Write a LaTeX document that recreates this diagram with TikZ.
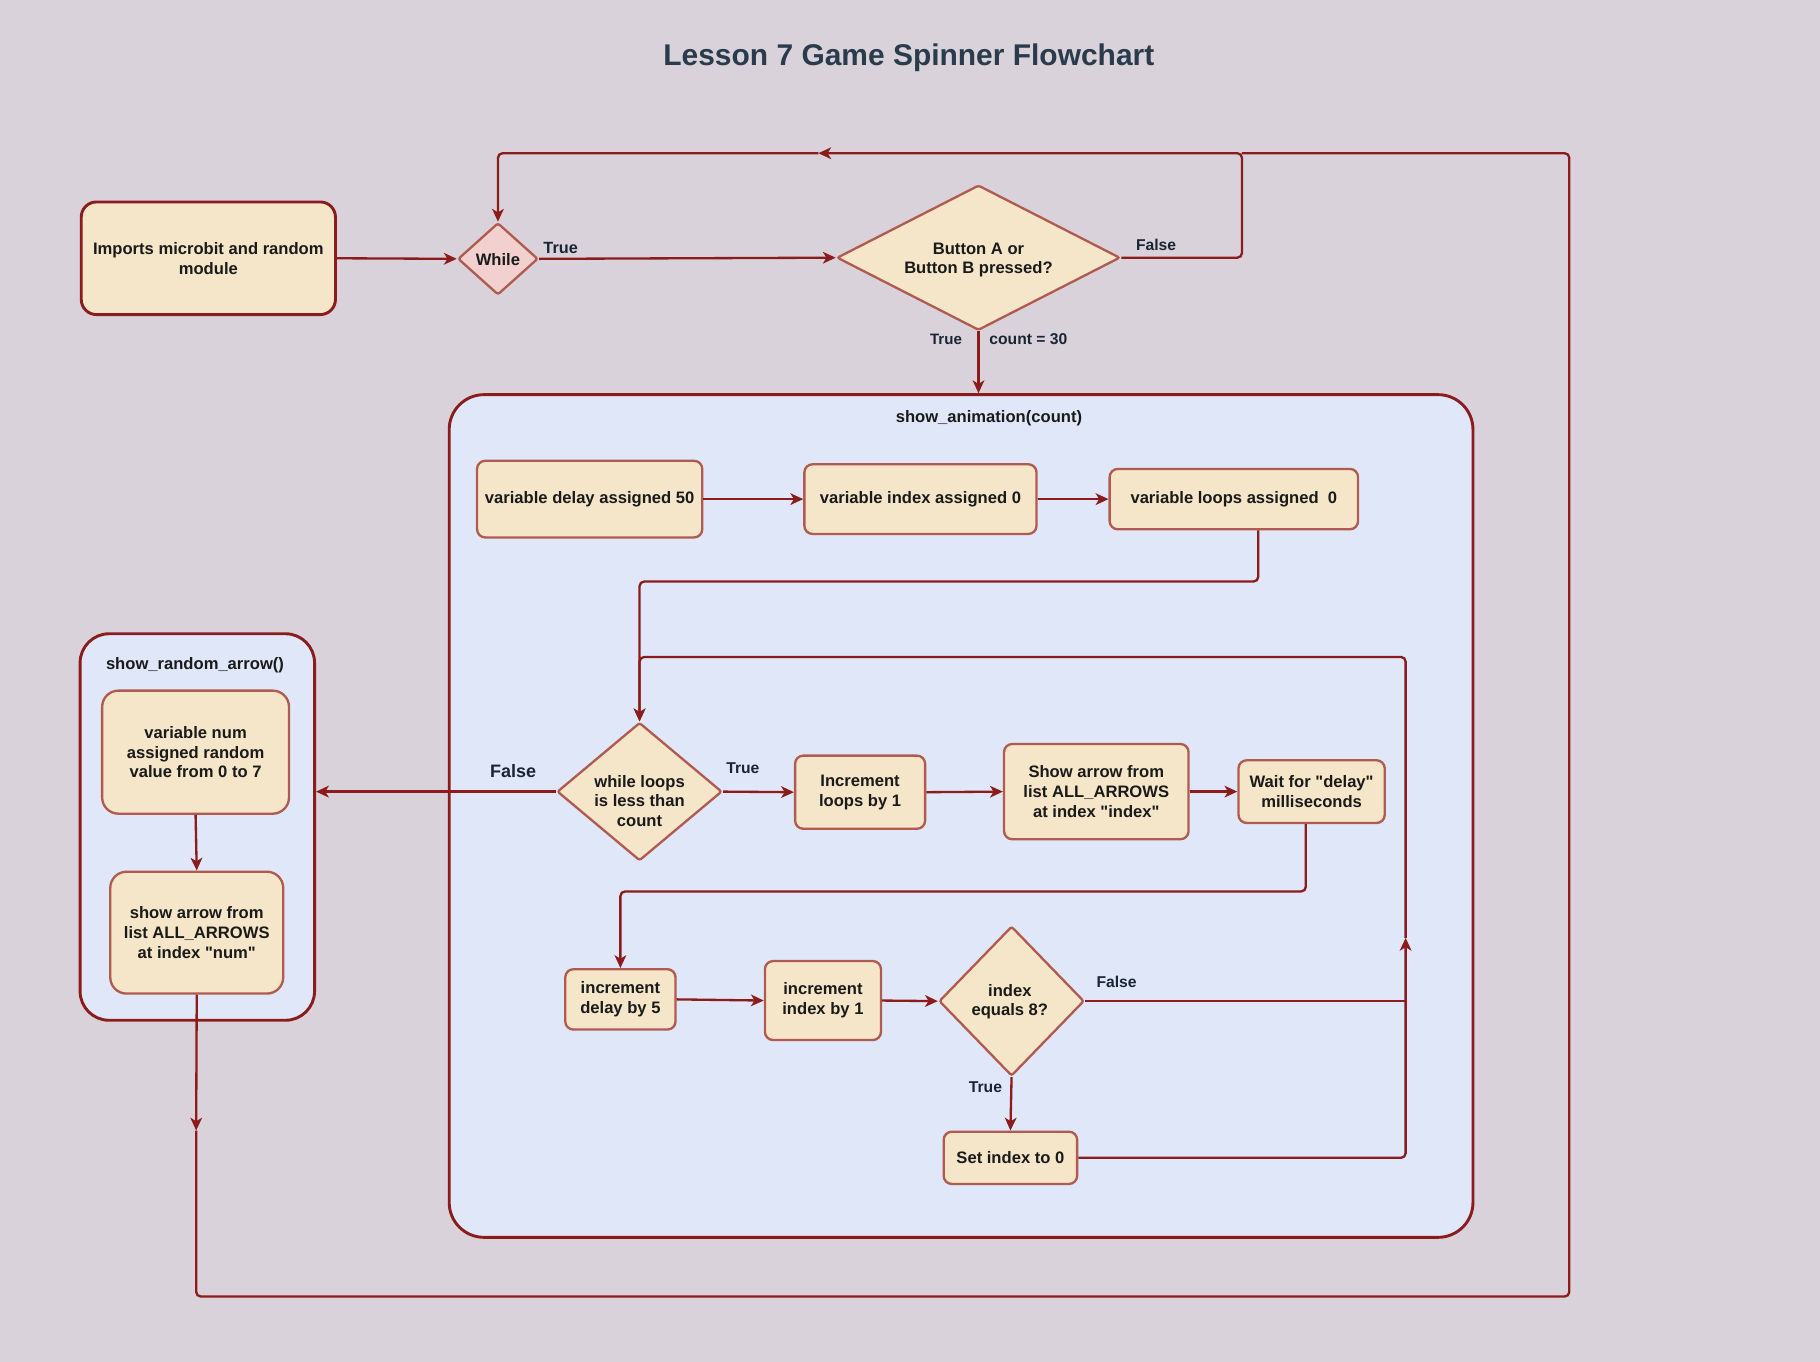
\documentclass[tikz,border=0pt]{standalone}
\usepackage{fontspec}
\setmainfont{Liberation Sans}[Ligatures=TeXOff]
\usetikzlibrary{shapes.geometric,arrows.meta,calc}
\definecolor{bg}{HTML}{D9D2DA}
\definecolor{contfill}{HTML}{DFE7F8}
\definecolor{boxfill}{HTML}{F5E5C9}
\definecolor{boxline}{HTML}{B05A50}
\definecolor{dark}{HTML}{8C1C1C}
\definecolor{pinkfill}{HTML}{F3D0D0}
\definecolor{titlecol}{HTML}{2A3B4C}
\definecolor{txt}{HTML}{1A1A1A}
\definecolor{labtxt}{HTML}{1A2533}
\begin{document}
\begin{tikzpicture}[x=1pt,y=-1pt,
  base/.style={font=\fontsize{14.3}{17}\selectfont\bfseries, text=txt, align=center},
  box/.style={base, draw=boxline, fill=boxfill, line width=2pt, rounded corners=7pt, inner sep=0pt},
  diam/.style={draw=boxline, fill=boxfill, line width=2pt, diamond, inner sep=0pt, rounded corners=2pt},
  cont/.style={draw=dark, fill=contfill, line width=2.5pt, inner sep=0pt},
  arr/.style={draw=dark, line width=2pt, -{Stealth[length=11pt,width=10pt,inset=3pt]}, rounded corners=4pt},
  ln/.style={draw=dark, line width=2pt, rounded corners=4pt},
  lab/.style={font=\fontsize{14}{16}\selectfont\bfseries, text=labtxt, inner sep=0pt}
]
\fill[bg] (0,0) rectangle (1568,1173);
\useasboundingbox (0,0) rectangle (1568,1173);

% title
\node[font=\fontsize{25.8}{30}\selectfont\bfseries, text=titlecol] (title) at (783,50) {Lesson 7 Game Spinner Flowchart};

% containers
\node[cont, rounded corners=30pt, minimum width=882pt, minimum height=726pt] (anim) at (828,703) {};
\node[base, inner sep=0pt] (animlab) at (852,360) {show\_animation(count)};
\node[cont, rounded corners=25pt, minimum width=202pt, minimum height=333pt] (rnd) at (170,712.5) {};
\node[base, inner sep=0pt] (rndlab) at (168,573) {show\_random\_arrow()};

% top row
\node[box, draw=dark, line width=2.5pt, rounded corners=13pt, minimum width=219pt, minimum height=97pt] (imports) at (179.5,222.5) {Imports microbit and random\\module};
\node[diam, fill=pinkfill, minimum width=69pt, minimum height=62pt] (while) at (429,223) {};
\node[base, inner sep=0pt] (whiletxt) at (429,224) {While};
\node[diam, minimum width=244pt, minimum height=125pt] (btn) at (843,222) {};
\node[base, inner sep=0pt] (btntxt) at (843,224) {Button A or\\Button B pressed?};

% show_animation contents
\node[box, minimum width=194pt, minimum height=66pt] (delay) at (508,430) {variable delay assigned 50};
\node[box, minimum width=200pt, minimum height=60pt] (index) at (793,430) {variable index assigned 0};
\node[box, minimum width=214pt, minimum height=52pt] (loops) at (1063,430) {variable loops assigned\ \ 0};

\node[diam, minimum width=142pt, minimum height=119pt] (wl) at (551,682) {};
\node[base, inner sep=0pt] (wltxt) at (551,690) {while loops\\is less than\\count};
\node[box, minimum width=112pt, minimum height=63pt] (inc) at (741,682.5) {Increment\\loops by 1};
\node[box, minimum width=159pt, minimum height=82pt] (showarr) at (944.5,682) {Show arrow from\\list ALL\_ARROWS\\at index "index"};
\node[box, minimum width=126pt, minimum height=54pt] (wait) at (1130,682) {Wait for "delay"\\milliseconds};

\node[box, minimum width=95pt, minimum height=52pt] (incd) at (534.5,861) {increment\\delay by 5};
\node[box, minimum width=100pt, minimum height=68pt] (inci) at (709,862) {increment\\index by 1};
\node[diam, minimum width=125pt, minimum height=129pt] (ieq) at (871.5,862.5) {};
\node[base, inner sep=0pt] (ieqtxt) at (870,863) {index\\equals 8?};
\node[box, minimum width=115pt, minimum height=45pt] (setz) at (870.5,997.5) {Set index to 0};

% show_random_arrow contents
\node[box, rounded corners=14pt, minimum width=161pt, minimum height=106pt] (num) at (168.5,648) {variable num\\assigned random\\value from 0 to 7};
\node[box, rounded corners=14pt, minimum width=149pt, minimum height=105pt] (shownum) at (169.5,803.5) {show arrow from\\list ALL\_ARROWS\\at index "num"};

% helper coordinates
\coordinate (c1) at (1084,501);
\coordinate (c2) at (1125,768);
\coordinate (c3) at (1211,808);
\coordinate (c4) at (1211,566);
\coordinate (c5) at (1070,132);
\coordinate (m2) at (705,132);
\coordinate (m3) at (169,974);
\coordinate (c6) at (1352,1117);

% connectors
\draw[arr] (imports.east) -- (while.west);
\draw[arr] (while.east) -- (btn.west);
\draw[arr] (btn.east) -| (c5) -- (m2);
\draw[arr] (m2) -| (while.north);
\draw[arr] (btn.south) -- (btn.south |- anim.north);

\draw[arr] (delay.east) -- (index.west);
\draw[arr] (index.east) -- (loops.west);
\draw[arr] (loops.south -| c1) -- (c1) -| (wl.north);

\draw[arr] (wl.east) -- (inc.west);
\draw[arr] (inc.east) -- (showarr.west);
\draw[arr] (showarr.east) -- (wait.west);
\draw[arr] (wl.west) -- (wl.west -| rnd.east);

\draw[arr] (wait.south -| c2) -- (c2) -| (incd.north);
\draw[arr] (incd.east) -- (inci.west);
\draw[arr] (inci.east) -- (ieq.west);
\draw[ln] (ieq.east) -- (ieq.east -| c3);
\draw[arr] (ieq.south) -- (setz.north);
\draw[arr] (setz.east) -| (c3);
\draw[arr] (c3) -- (c4) -| (wl.north);

\draw[arr] (num.south) -- (shownum.north);
\draw[arr] (shownum.south) -- (m3);
\draw[ln] (m3) |- (c6) -- (c6 |- c5) -- (c5);

% labels
\node[lab] (l1) at (483,214) {True};
\node[lab, font=\fontsize{13.5}{16}\selectfont\bfseries] (l2) at (996,211) {False};
\node[lab, font=\fontsize{13}{16}\selectfont\bfseries] (l3) at (815,292) {True};
\node[lab, font=\fontsize{13.5}{16}\selectfont\bfseries] (l4) at (886,292) {count = 30};
\node[lab, font=\fontsize{15.5}{18}\selectfont\bfseries] (l5) at (442,664) {False};
\node[lab, font=\fontsize{13.5}{16}\selectfont\bfseries] (l6) at (640,662) {True};
\node[lab, font=\fontsize{13.5}{16}\selectfont\bfseries] (l7) at (962,846) {False};
\node[lab, font=\fontsize{13.5}{16}\selectfont\bfseries] (l8) at (849,937) {True};
\end{tikzpicture}
\end{document}
